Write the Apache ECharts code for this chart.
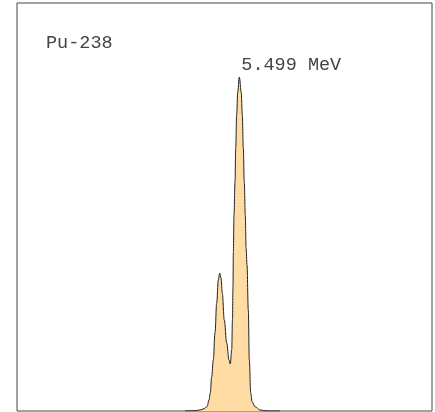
<!DOCTYPE html>
<html>
<head>
<meta charset="utf-8">
<script src="https://cdn.jsdelivr.net/npm/echarts@6/dist/echarts.min.js"></script>
<style>
  html, body { margin: 0; padding: 0; background: #fff; }
  #chart { width: 435px; height: 412px; }
</style>
</head>
<body>
<div id="chart"></div>
<script>
// Pu-238 alpha spectrum, energies in keV, counts
const energy = [
  5376, 5398.7, 5410, 5419.1, 5425.9, 5430.4, 5433.3, 5436.5, 5440.1, 5444,
  5447.8, 5451.4, 5454.6, 5457.6, 5460.5, 5465, 5470.5, 5475.7, 5478.6, 5481.8,
  5483.6, 5484.7, 5485.6, 5487, 5489.3, 5490.9, 5493.1, 5495.4, 5499, 5503.5,
  5505.8, 5508.1, 5510.3, 5512.6, 5514.4, 5516.5, 5519.4, 5521.7, 5524.9, 5527.8,
  5534.6, 5545.9, 5561.8, 5591.2
];
const counts = [
  0, 1, 3, 7, 13, 33, 54, 102, 153, 234,
  323, 392, 413, 398, 353, 273, 204, 153, 141, 183,
  273, 371, 476, 587, 686, 788, 887, 955, 1000, 955,
  887, 788, 686, 587, 488, 437, 302, 153, 54, 28,
  13, 3, 0, 0
];
const isotope = 'Pu-238';
const peakLabel = '5.499 MeV';
const xRange = [4995.5, 5935.5];
const yRange = [0, 1222];

const font = 'Liberation Mono';
const chart = echarts.init(document.getElementById('chart'));

chart.setOption({
  animation: false,
  backgroundColor: '#fff',
  graphic: [{
    type: 'text',
    x: 46,
    y: 43,
    style: {
      text: isotope,
      font: '18.5px "' + font + '"',
      fill: '#444',
      verticalAlign: 'middle'
    }
  }],
  grid: {
    left: 17, top: 3, right: 3, bottom: 1,
    show: true,
    borderColor: '#444',
    borderWidth: 1
  },
  xAxis: {
    type: 'value',
    min: xRange[0],
    max: xRange[1],
    show: false
  },
  yAxis: {
    type: 'value',
    min: yRange[0],
    max: yRange[1],
    show: false
  },
  series: [{
    type: 'line',
    data: energy.map((e, i) => [e, counts[i]]),
    showSymbol: false,
    smooth: 0.4,
    smoothMonotone: 'x',
    lineStyle: { color: '#222', width: 1 },
    areaStyle: { color: '#fedca4', opacity: 1 },
    markPoint: {
      symbol: 'circle',
      symbolSize: 0,
      data: [{ coord: [5499, 1000] }],
      label: {
        show: true,
        formatter: peakLabel,
        position: 'right',
        offset: [-3, -12],
        fontFamily: font,
        fontSize: 18.5,
        color: '#444'
      }
    }
  }]
});
</script>
</body>
</html>
